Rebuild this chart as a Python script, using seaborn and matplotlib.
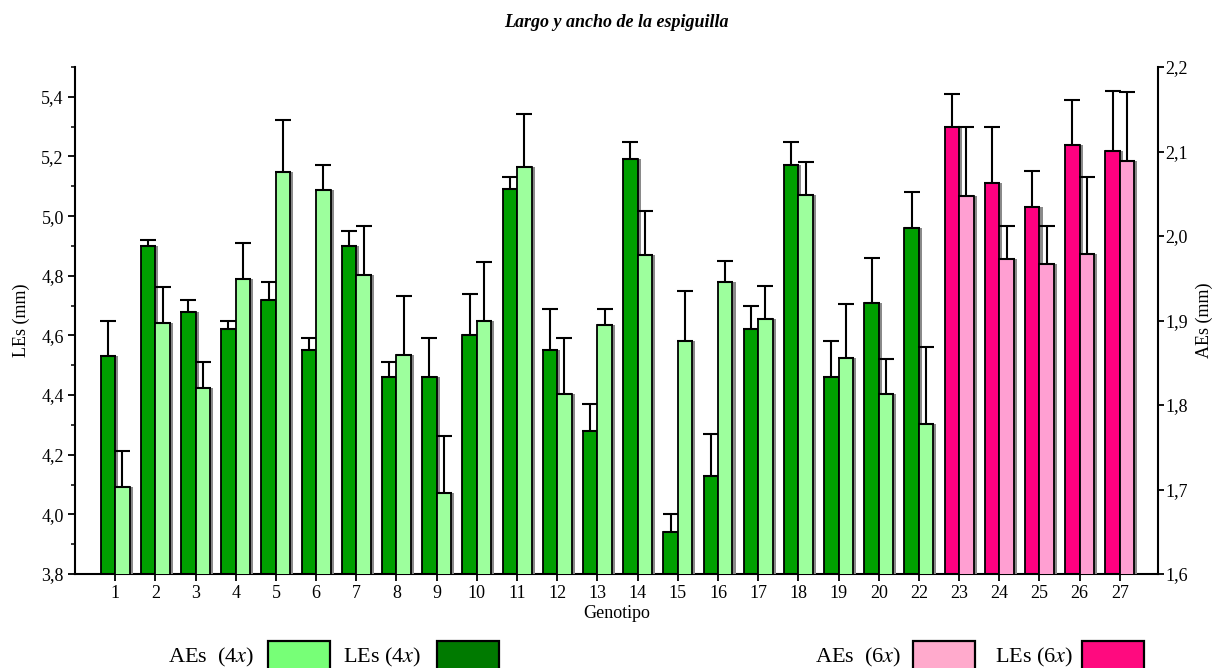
import numpy as np
import pandas as pd
import matplotlib
matplotlib.use("Agg")
import matplotlib.pyplot as plt
import matplotlib.patheffects as pe
from matplotlib.patches import Rectangle
from matplotlib.ticker import FuncFormatter, MultipleLocator
import seaborn as sns

# datos
genotipos = ["1", "2", "3", "4", "5", "6", "7", "8", "9", "10", "11", "12", "13",
             "14", "15", "16", "17", "18", "19", "20", "22", "23", "24", "25", "26", "27"]
ploidia = ["4x"] * 21 + ["6x"] * 5

les = [4.53, 4.90, 4.68, 4.62, 4.72, 4.55, 4.90, 4.46, 4.46, 4.60, 5.09, 4.55, 4.28,
       5.19, 3.94, 4.13, 4.62, 5.17, 4.46, 4.71, 4.96, 5.30, 5.11, 5.03, 5.24, 5.22]
les_err = [0.12, 0.02, 0.04, 0.03, 0.06, 0.04, 0.05, 0.05, 0.13, 0.14, 0.04, 0.14, 0.09,
           0.06, 0.06, 0.14, 0.08, 0.08, 0.12, 0.15, 0.12, 0.11, 0.19, 0.12, 0.15, 0.20]

aes = [1.703, 1.897, 1.820, 1.949, 2.076, 2.055, 1.954, 1.859, 1.696, 1.900, 2.082, 1.813, 1.895,
       1.977, 1.876, 1.946, 1.902, 2.049, 1.856, 1.813, 1.778, 2.047, 1.973, 1.967, 1.979, 2.089]
aes_err = [0.042, 0.043, 0.031, 0.043, 0.061, 0.029, 0.058, 0.070, 0.067, 0.069, 0.062, 0.066, 0.019,
           0.053, 0.059, 0.024, 0.039, 0.038, 0.064, 0.041, 0.091, 0.082, 0.039, 0.045, 0.091, 0.082]

col_les = {"4x": "#00a000", "6x": "#ff0080"}
col_aes = {"4x": "#9dff9d", "6x": "#ff9fd2"}

sns.set_theme(style="ticks", rc={"text.color": "black", "axes.labelcolor": "black",
                                 "xtick.color": "black", "ytick.color": "black"})
plt.rcParams["font.family"] = ["Liberation Serif", "DejaVu Serif"]
plt.rcParams["mathtext.fontset"] = "stix"

idx = np.arange(len(genotipos))
off = 0.18
df = pd.DataFrame({"Genotipo": genotipos, "Ploidia": ploidia,
                   "LEs": les, "AEs": aes,
                   "pos_le": idx - off, "pos_ae": idx + off})

fig = plt.figure(figsize=(12.19, 6.68), dpi=100)
ax = fig.add_axes([0.0615, 0.1407, 0.8885, 0.759])
ax2 = ax.twinx()

sombra = [pe.SimplePatchShadow(offset=(2.2, 0), shadow_rgbFace="#8a8a8a", alpha=1.0), pe.Normal()]

sns.barplot(data=df, x="pos_le", y="LEs", hue="Ploidia", palette=col_les, native_scale=True,
            dodge=False, width=0.36, errorbar=None, legend=False, ax=ax, saturation=1,
            edgecolor="black", linewidth=1.3)
sns.barplot(data=df, x="pos_ae", y="AEs", hue="Ploidia", palette=col_aes, native_scale=True,
            dodge=False, width=0.36, errorbar=None, legend=False, ax=ax2, saturation=1,
            edgecolor="black", linewidth=1.3)
for p in ax.patches + ax2.patches:
    p.set_path_effects(sombra)

ax.errorbar(df["pos_le"], df["LEs"], yerr=[np.zeros(len(les)), les_err], fmt="none",
            ecolor="black", elinewidth=1.5, capsize=6, capthick=1.5, zorder=1)
ax2.errorbar(df["pos_ae"], df["AEs"], yerr=[np.zeros(len(aes)), aes_err], fmt="none",
             ecolor="black", elinewidth=1.5, capsize=6, capthick=1.5, zorder=1)

coma = FuncFormatter(lambda v, _: f"{v:.1f}".replace(".", ","))

ax.set_ylim(3.8, 5.5)
ax.yaxis.set_major_locator(MultipleLocator(0.2))
ax.yaxis.set_minor_locator(MultipleLocator(0.1))
ax.yaxis.set_major_formatter(coma)
ax2.set_ylim(1.6, 2.2)
ax2.yaxis.set_major_locator(MultipleLocator(0.1))
ax2.yaxis.set_major_formatter(coma)

ax.set_xlim(-1.0, 25.95)
ax.set_xticks(idx)
ax.set_xticklabels(genotipos)
ax2.set_xlim(-1.0, 25.95)

for a in (ax, ax2):
    a.spines["top"].set_visible(False)
    for s in a.spines.values():
        s.set_linewidth(1.5)
        s.set_color("black")
    a.set_xlabel("")
ax.spines["right"].set_visible(False)
ax2.spines["left"].set_visible(False)
ax2.spines["bottom"].set_visible(False)

ax.tick_params(axis="both", which="major", direction="out", length=5, width=1.3,
               labelsize=13, colors="black", pad=3)
ax.tick_params(axis="y", which="minor", direction="out", length=3, width=1.1, left=True)
ax2.tick_params(axis="y", which="major", direction="out", length=4, width=1.3,
                labelsize=13, colors="black", pad=1)

ax.set_ylabel("LEs (mm)", fontsize=13, labelpad=8)
ax2.set_ylabel("AEs (mm)", fontsize=13, labelpad=6)
ax.set_xlabel("Genotipo", fontsize=13, labelpad=2)

fig.text(0.506, 0.967, "Largo y ancho de la espiguilla", ha="center", va="center",
         fontsize=13, fontweight="bold", fontstyle="italic")

# leyenda inferior
W, H = 1219.0, 668.0
leyenda = [("AEs  (4$x$)", 168, 268, "#77ff77"),
           ("LEs (4$x$)", 343, 437, "#007a00"),
           ("AEs  (6$x$)", 815, 913, "#ffaacc"),
           ("LEs (6$x$)", 995, 1082, "#ff0a7f")]
for txt, xt, xs, c in leyenda:
    fig.text(xt / W, 1 - 657 / H, txt, ha="left", va="center", fontsize=16)
    fig.patches.append(Rectangle((xs / W, 1 - 672 / H), 62 / W, 31 / H,
                                 transform=fig.transFigure, facecolor=c,
                                 edgecolor="black", linewidth=1.6))

fig.savefig("out.png", dpi=100)
